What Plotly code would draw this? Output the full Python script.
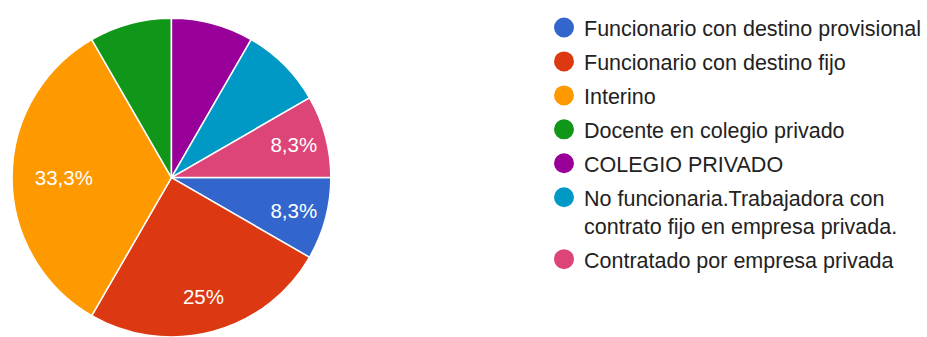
import plotly.graph_objects as go

# Survey answers (count of respondents per category)
categories = [
    "Funcionario con destino provisional",
    "Funcionario con destino fijo",
    "Interino",
    "Docente en colegio privado",
    "COLEGIO PRIVADO",
    "No funcionaria.Trabajadora con<br>contrato fijo en empresa privada.",
    "Contratado por empresa privada",
]
counts = [1, 3, 4, 1, 1, 1, 1]
colors = ["#3366cc", "#dc3912", "#ff9900", "#109618", "#990099", "#0099c6", "#dd4477"]
# Slices whose percentage is printed on the pie
show_label = [True, True, True, False, False, False, True]

total = sum(counts)


def pct_text(v):
    p = round(v / total * 100, 1)
    s = f"{p:.1f}".rstrip("0").rstrip(".")
    return s.replace(".", ",") + "%"


FONT = "Liberation Sans, Arial, sans-serif"
PIE_DOMAIN = dict(x=[12 / 927, 332 / 927], y=[0, 0.946])

fig = go.Figure()

# Coloured slices
fig.add_trace(go.Pie(
    labels=categories,
    values=counts,
    textinfo="none",
    marker=dict(colors=colors, line=dict(color="white", width=1.5)),
    sort=False,
    direction="clockwise",
    rotation=90,
    showlegend=False,
    hoverinfo="label+percent",
    domain=PIE_DOMAIN,
))

# Percentage labels: wide slices get their label nearer the centre,
# narrower ones sit out in the outer ring of the pie.
for wide, hole in ((False, 0.55), (True, 0.35)):
    texts = [
        pct_text(v) if show and ((v / total > 0.3) == wide) else ""
        for v, show in zip(counts, show_label)
    ]
    fig.add_trace(go.Pie(
        labels=categories,
        values=counts,
        text=texts,
        texttemplate="%{text}",
        textposition="inside",
        insidetextorientation="horizontal",
        textfont=dict(family=FONT, size=20.5, color="white"),
        marker=dict(colors=["rgba(0,0,0,0)"] * len(counts), line=dict(width=0)),
        hole=hole,
        sort=False,
        direction="clockwise",
        rotation=90,
        showlegend=False,
        hoverinfo="skip",
        domain=PIE_DOMAIN,
    ))

# Legend entries with round markers (outline in the same colour enlarges the dot)
for name, col in zip(categories, colors):
    fig.add_trace(go.Scatter(
        x=[None], y=[None], mode="markers", name=name,
        marker=dict(symbol="circle", size=16, color=col,
                    line=dict(color=col, width=4)),
        legendgroup=name,
    ))

fig.update_layout(
    width=927, height=337,
    margin=dict(l=0, r=0, t=0, b=0),
    paper_bgcolor="white", plot_bgcolor="white",
    xaxis=dict(visible=False), yaxis=dict(visible=False),
    legend=dict(
        x=546 / 927, y=1 - 7 / 337, xanchor="left", yanchor="top",
        font=dict(family=FONT, size=21.5, color="#222222"),
        valign="top", traceorder="grouped", tracegroupgap=3,
        bgcolor="rgba(0,0,0,0)",
    ),
    showlegend=True,
)

fig.write_html("out.html")
